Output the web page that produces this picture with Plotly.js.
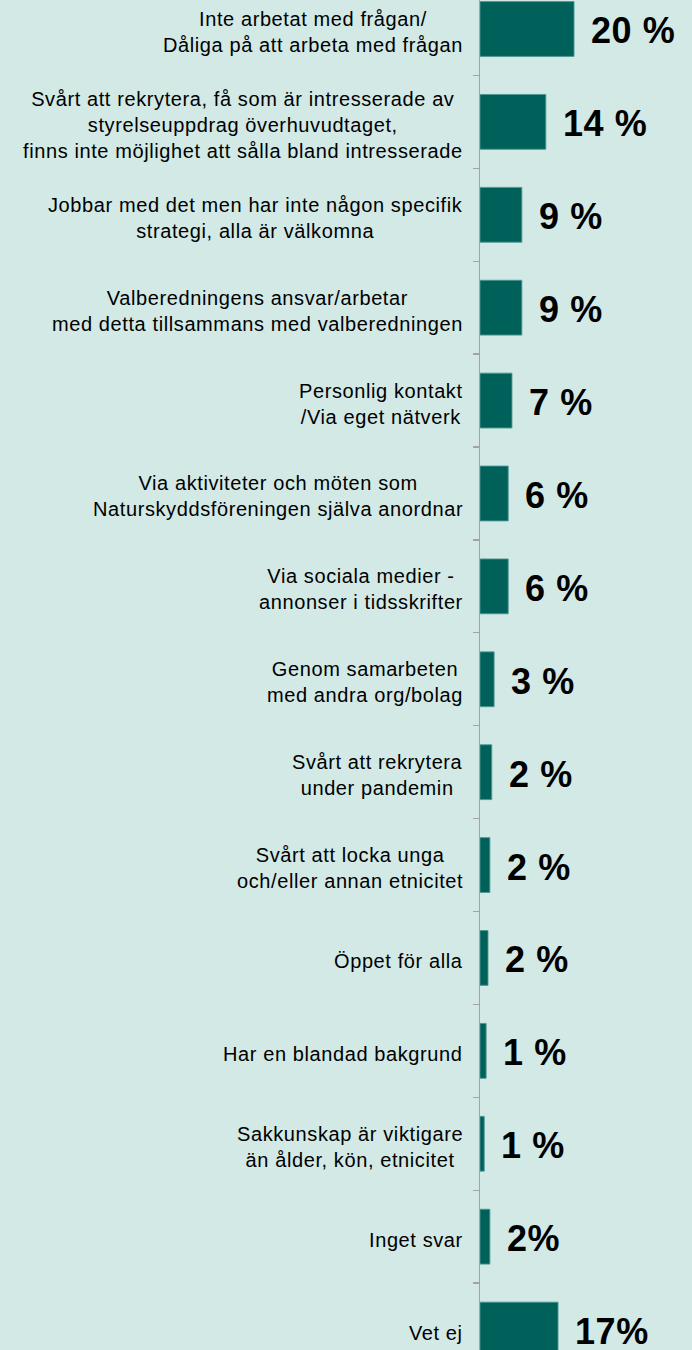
<!DOCTYPE html>
<html>
<head>
<meta charset="utf-8">
<script src="https://cdn.plot.ly/plotly-3.0.1.min.js"></script>
<style>
  html, body { margin: 0; padding: 0; background: #D2E9E6; }
  #chart { width: 692px; height: 1350px; }
  .annotation-text { letter-spacing: 0.6px; }
</style>
</head>
<body>
<div id="chart"></div>
<script>
const categories = [
  "Inte arbetat med frågan/<br>Dåliga på att arbeta med frågan",
  "Svårt att rekrytera, få som är intresserade av<br>styrelseuppdrag överhuvudtaget,<br>finns inte möjlighet att sålla bland intresserade",
  "Jobbar med det men har inte någon specifik<br>strategi, alla är välkomna",
  "Valberedningens ansvar/arbetar<br>med detta tillsammans med valberedningen",
  "Personlig kontakt<br>/Via eget nätverk",
  "Via aktiviteter och möten som<br>Naturskyddsföreningen själva anordnar",
  "Via sociala medier -<br>annonser i tidsskrifter",
  "Genom samarbeten<br>med andra org/bolag",
  "Svårt att rekrytera<br>under pandemin",
  "Svårt att locka unga<br>och/eller annan etnicitet",
  "Öppet för alla",
  "Har en blandad bakgrund",
  "Sakkunskap är viktigare<br>än ålder, kön, etnicitet",
  "Inget svar",
  "Vet ej"
];
const values = [20, 14, 8.9, 8.9, 6.8, 6.0, 6.0, 3.0, 2.5, 2.1, 1.7, 1.3, 0.9, 2.1, 16.6];
const valueLabels = ["20 %", "14 %", "9 %", "9 %", "7 %", "6 %", "6 %", "3 %", "2 %", "2 %", "2 %", "1 %", "1 %", "2%", "17%"];

const BG = "#D2E9E6";
const BAR = "#00605A";
const AXIS = "#A3A3A3";

const trace = {
  type: "bar",
  orientation: "h",
  x: values,
  y: categories,
  width: 0.59,
  marker: { color: BAR, line: { color: "rgba(80,150,145,0.9)", width: 1 } },
  hoverinfo: "skip"
};

const annotations = [];
categories.forEach((c, i) => {
  annotations.push({
    xref: "paper", yref: "y", x: 0, y: c,
    xanchor: "right", yanchor: "middle", xshift: -15, yshift: -3,
    align: "center", showarrow: false, text: c,
    font: { family: "Liberation Sans, Arial, sans-serif", size: 20, color: "#000000" }
  });
  annotations.push({
    xref: "x", yref: "y", x: values[i], y: c,
    xanchor: "left", yanchor: "middle", xshift: 15, yshift: -2,
    align: "left", showarrow: false, text: valueLabels[i],
    font: { family: "Liberation Sans, Arial, sans-serif", size: 36, color: "#000000", weight: "bold" }
  });
});

const layout = {
  width: 692, height: 1350,
  margin: { l: 480, r: 0, t: 0, b: 0, pad: 0 },
  paper_bgcolor: BG, plot_bgcolor: BG,
  showlegend: false,
  bargap: 0.41,
  xaxis: { range: [0, 45.1], showgrid: false, zeroline: false, showticklabels: false, showline: false, ticks: "", fixedrange: true },
  yaxis: {
    type: "category", range: [14.22, -0.312],
    showline: true, linecolor: AXIS, linewidth: 1.3,
    ticks: "outside", ticklen: 6, tickcolor: AXIS, tickwidth: 1.3,
    tickson: "boundaries", showticklabels: false, showgrid: false, zeroline: false, fixedrange: true
  },
  annotations: annotations
};

Plotly.newPlot("chart", [trace], layout, { displayModeBar: false, staticPlot: true });
</script>
</body>
</html>
